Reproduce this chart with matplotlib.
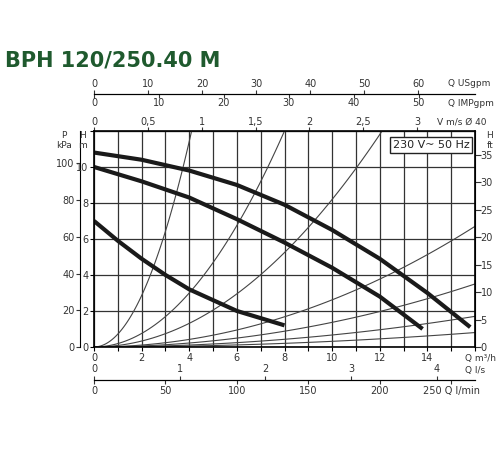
import matplotlib.pyplot as plt
import numpy as np

plt.rcParams['font.family'] = ['Liberation Sans Narrow', 'DejaVu Sans']
plt.rcParams['font.size'] = 7

# pump curves, Q m3/h -> H m
q1 = [0, 2, 4, 6, 8, 10, 12, 14, 15.8]
h1 = [10.8, 10.4, 9.8, 9.0, 7.9, 6.5, 4.9, 3.0, 1.1]
q2 = [0, 2, 4, 6, 8, 10, 12, 13.8]
h2 = [10.0, 9.2, 8.3, 7.1, 5.8, 4.4, 2.8, 1.0]
q3 = [0, 1, 2, 3, 4, 5, 6, 7, 8]
h3 = [7.0, 5.9, 4.9, 4.0, 3.2, 2.6, 2.0, 1.6, 1.2]

# system curves end points (Q, H)
sys_q = [4.1, 8.0, 12.1, 16, 16, 16, 16]
sys_h = [12, 12, 12, 6.7, 3.5, 1.7, 0.8]

fig = plt.figure(figsize=(5, 4.5), dpi=100)
ax = fig.add_axes([0.188, 0.229, 0.762, 0.48])

for qe, he in zip(sys_q, sys_h):
    qq = np.linspace(0, qe, 60)
    ax.plot(qq, he * (qq / qe) ** 2, color='#444444', lw=0.8)
for q, h in [(q1, h1), (q2, h2), (q3, h3)]:
    ax.plot(q, h, color='#1a1a1a', lw=3, solid_capstyle='butt')

ax.set_xlim(0, 16)
ax.set_ylim(0, 12)
ax.set_xticks(range(0, 17))
ax.set_xticklabels([str(i) if i % 2 == 0 and i < 16 else '' for i in range(17)], color='#333')
ax.set_yticks(range(0, 13, 2))
ax.set_yticklabels(['0', '2', '4', '6', '8', '10', ''], color='#333')
ax.tick_params(length=3, pad=1)
ax.grid(True, color='#333', lw=0.9)
for s in ax.spines.values():
    s.set_linewidth(1.2)

# right ft axis
ft = ax.secondary_yaxis('right', functions=(lambda m: m * 3.281, lambda f: f / 3.281))
ft.set_yticks(range(0, 36, 5))
ft.tick_params(labelsize=7, length=4, pad=0, colors='#333')

# left kPa axis
kp = ax.secondary_yaxis(-0.037, functions=(lambda m: m * 9.81, lambda p: p / 9.81))
kp.set_yticks(range(0, 101, 20))
kp.tick_params(labelsize=7, length=3, pad=1, colors='#333')

# top axes
v = ax.secondary_xaxis('top', functions=(lambda q: q / 3600 / 0.0012566, lambda s: s * 3600 * 0.0012566))
v.set_xticks([0, 0.5, 1, 1.5, 2, 2.5, 3])
v.set_xticklabels(['0', '0,5', '1', '1,5', '2', '2,5', '3'])
v.tick_params(labelsize=7, length=3, pad=0, colors='#333')

us = ax.secondary_xaxis(1.17, functions=(lambda q: q * 4.403, lambda g: g / 4.403))
us.set_xticks(range(0, 61, 10))
us.tick_params(labelsize=7, length=3, pad=1, colors='#333')

imp = ax.secondary_xaxis(1.17, functions=(lambda q: q * 3.666, lambda g: g / 3.666))
imp.set_xticks(range(0, 51, 10))
imp.tick_params(axis='x', top=False, labeltop=False, bottom=True, labelbottom=True,
                labelsize=7, length=3, pad=0, colors='#333')

# bottom axes
ls = ax.secondary_xaxis(-0.153, functions=(lambda q: q / 3.6, lambda l: l * 3.6))
ls.set_xticks([0, 1, 2, 3, 4])
ls.tick_params(axis='x', top=True, labeltop=True, bottom=False, labelbottom=False,
               labelsize=7, length=3, pad=1, colors='#333')

lm = ax.secondary_xaxis(-0.153, functions=(lambda q: q * 1000 / 60, lambda l: l * 60 / 1000))
lm.set_xticks([0, 50, 100, 150, 200, 250])
lm.set_xticklabels(['0', '50', '100', '150', '200', '250 Q l/min'])
lm.tick_params(labelsize=7, length=3, pad=1, colors='#333')

tk = dict(transform=ax.transAxes, fontsize=6.5, color='#333')
ax.text(0.93, 1.22, 'Q USgpm', ha='left', va='center', **tk)
ax.text(0.93, 1.125, 'Q IMPgpm', ha='left', va='center', **tk)
ax.text(0.90, 1.04, 'V m/s Ø 40', ha='left', va='center', **tk)
ax.text(1.03, 1.0, 'H\nft', ha='left', va='top', **tk)
ax.text(-0.03, 1.0, 'H\nm', ha='center', va='top', **tk)
ax.text(-0.08, 1.0, 'P\nkPa', ha='center', va='top', **tk)
ax.text(0.975, -0.055, 'Q m³/h', ha='left', va='center', **tk)
ax.text(0.975, -0.11, 'Q l/s', ha='left', va='center', **tk)
ax.text(0.985, 0.935, '230 V~ 50 Hz', ha='right', va='center', fontsize=8, color='#222',
        transform=ax.transAxes, bbox=dict(facecolor='white', edgecolor='#222', pad=2))

fig.text(0.01, 0.865, 'BPH 120/250.40 M', fontsize=15, fontweight='bold', color='#1f5a2e',
         va='center')

fig.savefig('out.png', dpi=100)
